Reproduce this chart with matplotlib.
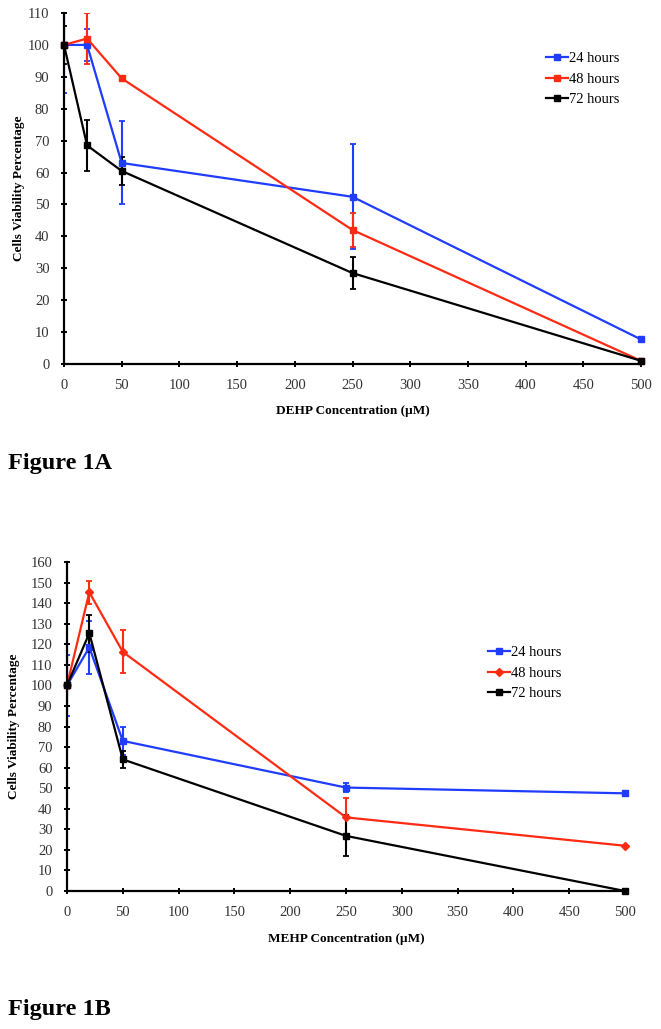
import matplotlib.pyplot as plt
from matplotlib.lines import Line2D

# concentrations (uM)
conc = [0, 20, 50, 250, 500]
labels = ["24 hours", "48 hours", "72 hours"]

# Figure 1A - DEHP
dehp_24 = [100, 100, 63, 52.4, 7.7]
dehp_24_err = [15, 5, 13, 16.5, 0]
dehp_48 = [100, 102, 89.5, 42, 1]
dehp_48_err = [0, 8, 0, 5.3, 0]
dehp_72 = [100, 68.5, 60.5, 28.5, 1]
dehp_72_err = [6, 8, 4.5, 5, 0]

# Figure 1B - MEHP
mehp_24 = [100, 118.5, 73, 50.3, 47.5]
mehp_24_err = [15, 13, 7, 2, 0]
mehp_48 = [100, 145.3, 116.3, 35.8, 22]
mehp_48_err = [2, 5.5, 10.5, 9.5, 0]
mehp_72 = [100, 125.4, 64, 26.8, 0]
mehp_72_err = [10, 9, 4, 10, 0]

colors = ["#1f3cff", "#ff2a12", "#000000"]
W, H = 661, 1029

plt.rcParams['font.family'] = ['Liberation Serif', 'DejaVu Serif']

fig = plt.figure(figsize=(W / 100, H / 100), dpi=100)


def draw(rect, series, errs, markers, ymax, xlabel, xl_y, yl_x, leg_pos):
    ax = fig.add_axes(rect)
    handles = []
    for y, e, c, m, lab in zip(series, errs, colors, markers, labels):
        line, caps, bars = ax.errorbar(conc, y, yerr=e, color=c, marker=m,
                                       markersize=4.5, linewidth=1.6,
                                       elinewidth=1.5, capsize=2.2,
                                       capthick=1.3)
        line.set_clip_on(False)
        handles.append(Line2D([], [], color=c, marker=m, markersize=4.5,
                              linewidth=1.6, label=lab))
    ax.set_xlim(0, 500)
    ax.set_ylim(0, ymax)
    ax.set_xticks(range(0, 501, 50))
    ax.set_yticks(range(0, ymax + 1, 10))
    for s in ['top', 'right']:
        ax.spines[s].set_visible(False)
    for s in ['left', 'bottom']:
        ax.spines[s].set_linewidth(1.6)
    ax.tick_params(direction='inout', length=5, width=1.4,
                   labelsize=10.5, labelcolor='#333333')
    ax.tick_params(axis='y', pad=8)
    ax.tick_params(axis='x', pad=8)
    ax.set_xlabel(xlabel, fontsize=9.5, fontweight='bold')
    ax.set_ylabel("Cells Viability Percentage", fontsize=9.5,
                  fontweight='bold')
    ax.xaxis.set_label_coords(0.5, xl_y)
    ax.yaxis.set_label_coords(yl_x, 0.5)
    ax.legend(handles=handles, loc='upper left', bbox_to_anchor=leg_pos,
              bbox_transform=fig.transFigure, frameon=False, fontsize=10.5,
              handlelength=1.5, handletextpad=0.1, labelspacing=0.5,
              borderpad=0, borderaxespad=0)
    return ax


draw([64 / W, 1 - 364 / H, (641 - 64) / W, (364 - 13) / H],
     [dehp_24, dehp_48, dehp_72], [dehp_24_err, dehp_48_err, dehp_72_err],
     ['s', 's', 's'], 110, "DEHP Concentration (\u00b5M)", -0.116, -0.068,
     (546 / W, 1 - 52 / H))

draw([67 / W, 1 - 891 / H, (625 - 67) / W, (891 - 562) / H],
     [mehp_24, mehp_48, mehp_72], [mehp_24_err, mehp_48_err, mehp_72_err],
     ['s', 'D', 's'], 160, "MEHP Concentration (\u00b5M)", -0.129, -0.084,
     (488 / W, 1 - 646 / H))

fig.text(8 / W, 1 - 463 / H, "Figure 1A", fontsize=17.5, fontweight='bold',
         va='center', ha='left')
fig.text(8 / W, 1 - 1009 / H, "Figure 1B", fontsize=17.5, fontweight='bold',
         va='center', ha='left')

fig.savefig("out.png", dpi=100)
